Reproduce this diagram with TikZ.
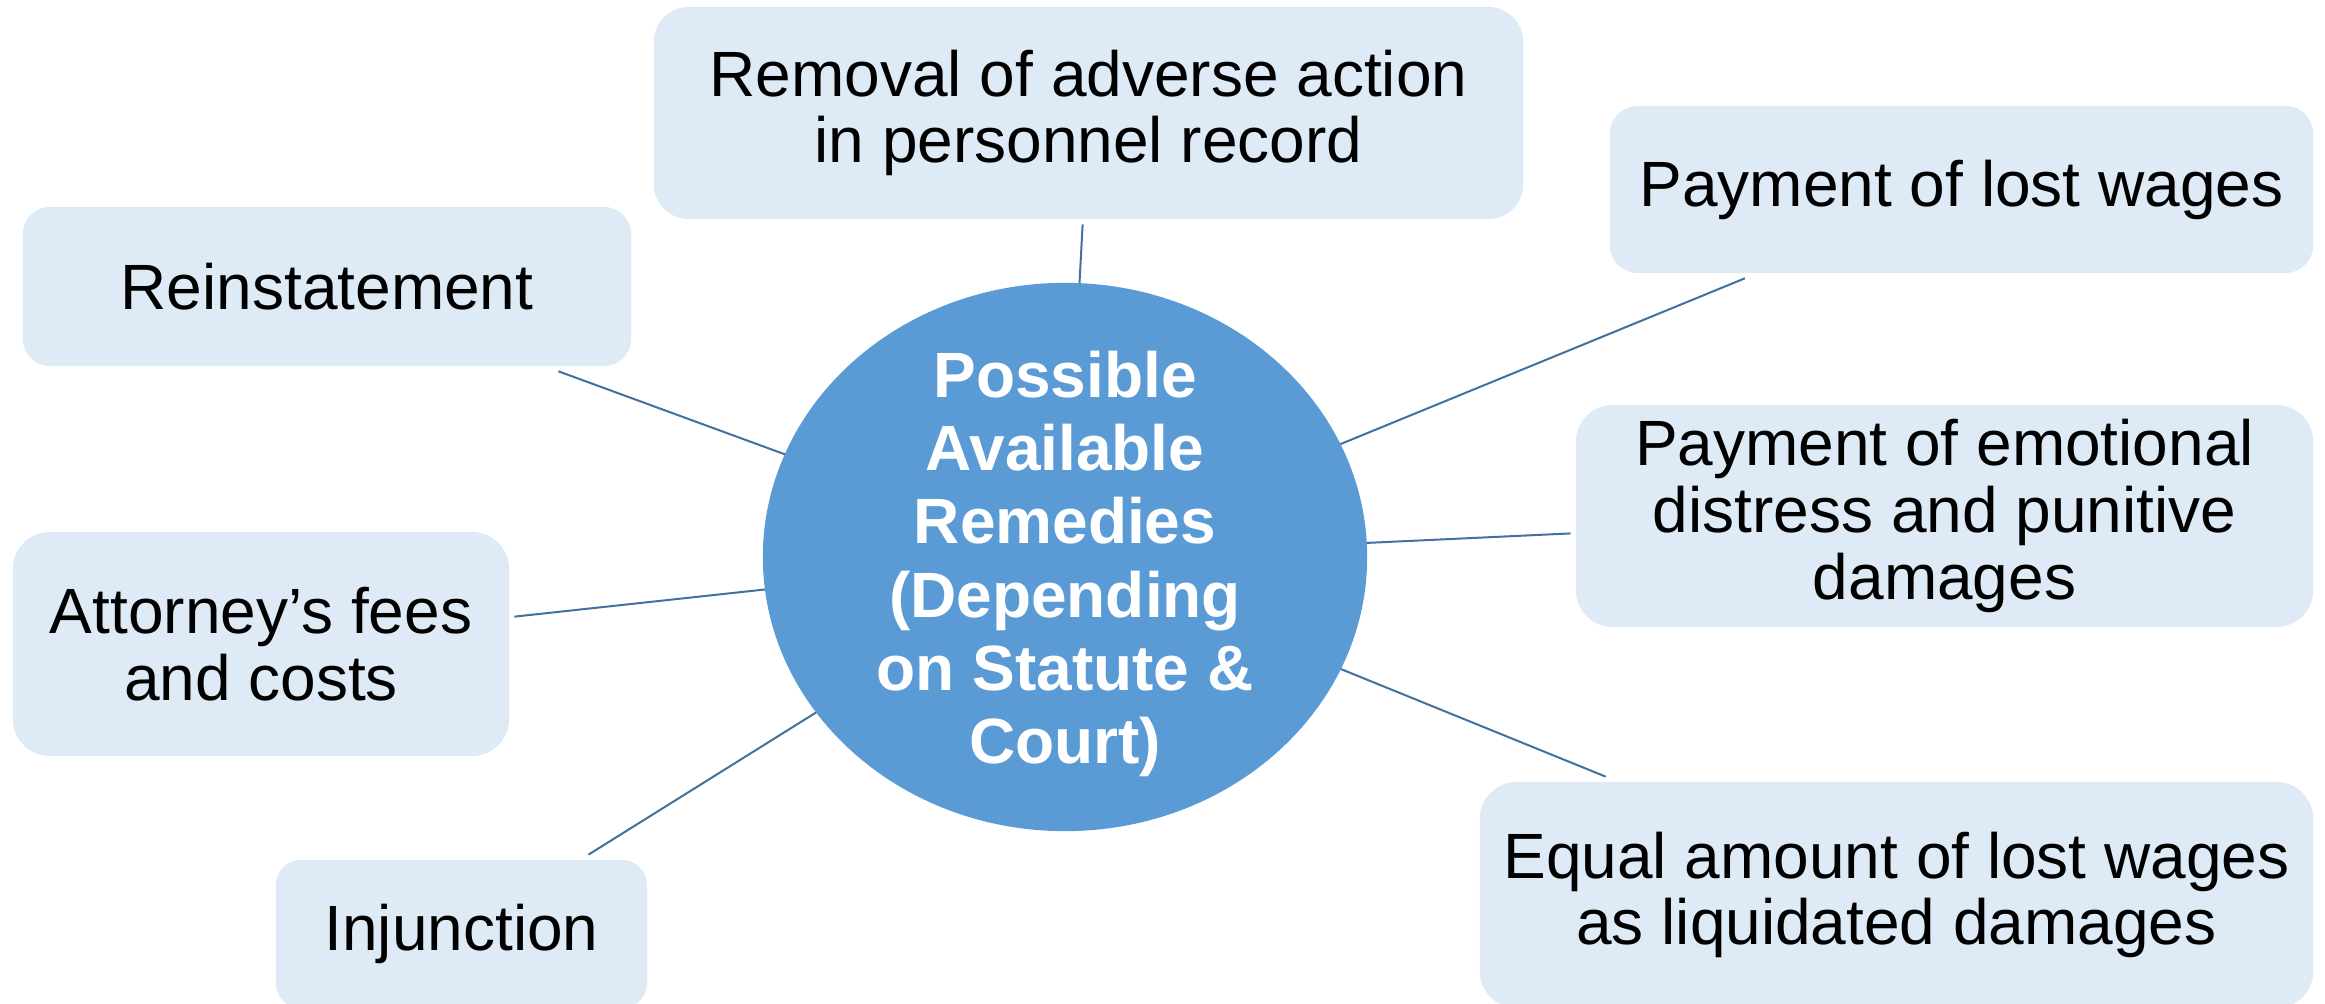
\documentclass[tikz,border=0pt]{standalone}
\usepackage{fontspec}
\setmainfont{Liberation Sans}
\usetikzlibrary{shapes.geometric}
\definecolor{boxfill}{RGB}{222,234,246}
\definecolor{hubfill}{RGB}{91,155,213}
\definecolor{linkcol}{RGB}{65,113,156}
\begin{document}
\begin{tikzpicture}[x=0.01cm,y=-0.01cm,
  remedy/.style={fill=boxfill, draw=none, inner sep=0pt, outer sep=1.5pt, align=center,
    font=\fontsize{18.2pt}{19pt}\selectfont, text=black},
  hub/.style={ellipse, fill=hubfill, draw=none, inner sep=0pt, outer sep=0pt,
    minimum width=6.04cm, minimum height=5.48cm},
  hubtext/.style={align=center, text=white, inner sep=0pt,
    font=\fontsize{18.2pt}{20.8pt}\selectfont\bfseries},
  link/.style={draw=linkcol, line width=0.02cm}]
\useasboundingbox (0,0) rectangle (2325,1004);
\clip (0,0) rectangle (2325,1004);
\node[hub] (c) at (1065,557) {};
\node[hubtext] (ct) at (1065,564) {Possible\\Available\\Remedies\\(Depending\\on Statute \&\\Court)};
\node[remedy, minimum width=8.69cm, minimum height=2.12cm, rounded corners=0.35cm] (rem) at (1088.5,113) {Removal of adverse action\\in personnel record};
\node[remedy, minimum width=7.03cm, minimum height=1.67cm, rounded corners=0.28cm] (lost) at (1961.5,189.5) {Payment of lost wages};
\node[remedy, minimum width=6.08cm, minimum height=1.59cm, rounded corners=0.27cm] (rein) at (327,286.5) {Reinstatement};
\node[remedy, minimum width=7.37cm, minimum height=2.22cm, rounded corners=0.37cm] (emo) at (1944.5,516) {Payment of emotional\\distress and punitive\\damages};
\node[remedy, minimum width=4.96cm, minimum height=2.24cm, rounded corners=0.37cm] (att) at (261,644) {Attorney’s fees\\and costs};
\node[remedy, minimum width=8.33cm, minimum height=2.26cm, rounded corners=0.37cm] (eq) at (1896.5,895) {Equal amount of lost wages\\as liquidated damages};
\node[remedy, minimum width=3.71cm, minimum height=1.48cm, rounded corners=0.25cm] (inj) at (461.5,934) {Injunction};
\draw[link] (c) -- (rem);
\draw[link] (c) -- (lost);
\draw[link] (c) -- (rein);
\draw[link] (c) -- (emo);
\draw[link] (c) -- (att);
\draw[link] (c) -- (eq);
\draw[link] (c) -- (inj);
\end{tikzpicture}
\end{document}
